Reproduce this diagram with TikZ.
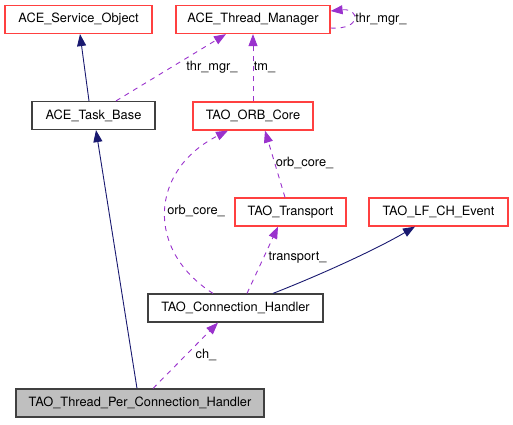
\documentclass[tikz,border=0pt]{standalone}
\usepackage{fontspec}
\setmainfont{TeX Gyre Heros}
\usetikzlibrary{arrows.meta}
\definecolor{edgenavy}{RGB}{25,25,112}
\definecolor{edgeorchid}{RGB}{154,50,205}
\definecolor{boxred}{RGB}{255,64,64}
\definecolor{boxdark}{RGB}{64,64,64}
\definecolor{boxgray}{RGB}{191,191,191}

\begin{document}
\begin{tikzpicture}[x=1pt, y=-1pt,
  cls/.style={draw=boxred, line width=1.2pt, fill=white, minimum height=28pt,
    inner sep=0pt, font=\fontsize{12.8}{15}\selectfont},
  plain/.style={cls, draw=boxdark},
  lbl/.style={inner sep=0pt, font=\fontsize{12.8}{15}\selectfont},
  inh/.style={draw=edgenavy, line width=0.9pt,
    -{Triangle[length=12pt, width=9pt]}},
  use/.style={draw=edgeorchid, line width=0.9pt, dash pattern=on 5pt off 5pt,
    -{Triangle[length=12pt, width=9pt]}},
]
  \useasboundingbox (0,0) rectangle (513,424);

  % top row
  \node[cls, minimum width=147pt] (svc) at (78.5, 19.5) {ACE\_Service\_Object};
  \node[cls, minimum width=154pt] (thrmgr) at (253, 19.5) {ACE\_Thread\_Manager};

  % second row
  \node[plain, minimum width=123pt] (task) at (93.5, 115.5) {ACE\_Task\_Base};
  \node[cls, minimum width=120pt] (orb) at (253, 116) {TAO\_ORB\_Core};

  % third row
  \node[cls, minimum width=111pt] (transport) at (290.5, 212) {TAO\_Transport};
  \node[cls, minimum width=139pt] (lfch) at (438.5, 212) {TAO\_LF\_CH\_Event};

  % handlers
  \node[plain, minimum width=175pt] (conn) at (235.5, 308) {TAO\_Connection\_Handler};
  \node[plain, fill=boxgray, minimum width=248pt] (tpch) at (140, 403)
    {TAO\_Thread\_Per\_Connection\_Handler};

  % inheritance
  \draw[inh] ([shift={(-4.5,0)}]task.north) -- ([shift={(1.5,0)}]svc.south);
  \draw[inh] ([shift={(-3,0)}]tpch.north) -- ([shift={(2.5,0)}]task.south);
  \draw[inh] ([shift={(37.5,0)}]conn.north)
    .. controls (320,275) and (375,250) .. ([shift={(-23.5,0)}]lfch.south);

  % usage
  \draw[use] ([shift={(22.5,0)}]task.north) -- ([shift={(-27,0)}]thrmgr.south);
  \node[lbl] (lthr) at (212, 67) {thr\_mgr\_};

  \draw[use] (orb.north) -- (thrmgr.south);
  \node[lbl] (ltm) at (264.5, 67) {tm\_};

  \draw[use] ([shift={(0,8.5)}]thrmgr.east)
    .. controls (362,30) and (360,8) .. ([shift={(0,-8.5)}]thrmgr.east);
  \node[lbl] (lself) at (381, 19) {thr\_mgr\_};

  \draw[use] ([shift={(-5.5,0)}]transport.north) -- ([shift={(12,0)}]orb.south);
  \node[lbl] (lorb) at (304.5, 163) {orb\_core\_};

  \draw[use] ([shift={(-22.5,0)}]conn.north)
    .. controls (145,250) and (150,170) .. ([shift={(-25,0)}]orb.south);
  \node[lbl] (lorbc) at (196, 211) {orb\_core\_};

  \draw[use] ([shift={(11.5,0)}]conn.north) -- ([shift={(-12.5,0)}]transport.south);
  \node[lbl] (ltr) at (297.5, 258) {transport\_};

  \draw[use] ([shift={(13,0)}]tpch.north) -- ([shift={(-17.5,0)}]conn.south);
  \node[lbl] (lch) at (206, 355) {ch\_};
\end{tikzpicture}
\end{document}
